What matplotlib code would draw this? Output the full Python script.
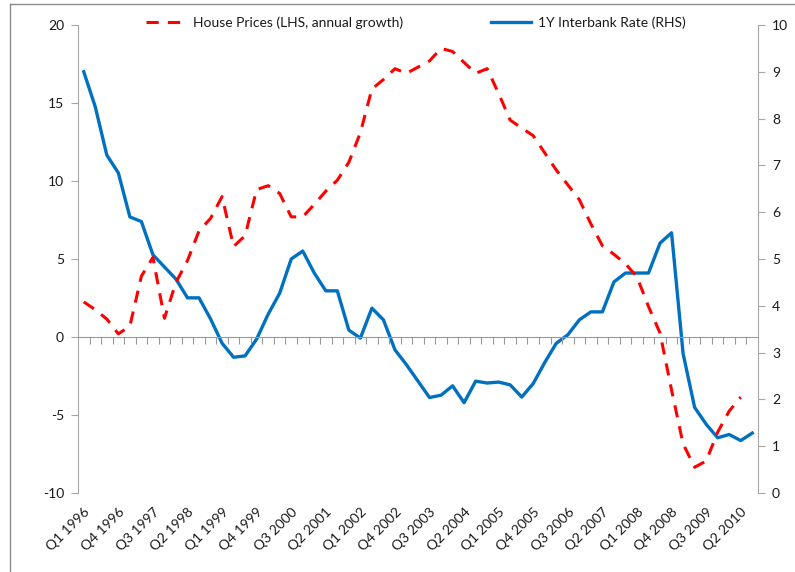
import matplotlib
matplotlib.use('Agg')
import numpy as np
import matplotlib.pyplot as plt
from matplotlib.lines import Line2D

plt.rcParams['font.family'] = ['Lato', 'DejaVu Sans']
plt.rcParams['axes.unicode_minus'] = False

# Quarterly categories, Q1 1996 .. Q3 2010
quarters = [f'Q{q} {y}' for y in range(1996, 2011) for q in range(1, 5)][:59]

# House prices, annual growth % (LHS) - ends Q2 2010
house_prices = [2.25, 1.75, 1.15, 0.2, 0.7, 3.9, 5.1, 1.2, 3.5, 4.9,
                6.8, 7.6, 9.0, 5.8, 6.5, 9.45, 9.7, 9.2, 7.7, 7.7,
                8.5, 9.35, 10.05, 11.2, 13.1, 15.9, 16.5, 17.2, 16.9, 17.3,
                17.7, 18.5, 18.3, 17.6, 16.9, 17.2, 15.6, 13.9, 13.4, 12.9,
                11.8, 10.7, 9.75, 8.8, 7.25, 5.85, 5.3, 4.7, 3.85, 1.95,
                0.25, -3.4, -6.85, -8.35, -7.95, -6.1, -4.75, -3.85]

# 1Y interbank rate % (RHS)
interbank = [9.0, 8.25, 7.22, 6.84, 5.9, 5.8, 5.09, 4.83, 4.57, 4.17,
             4.17, 3.72, 3.2, 2.9, 2.93, 3.29, 3.82, 4.27, 5.0, 5.17,
             4.7, 4.32, 4.32, 3.48, 3.31, 3.95, 3.7, 3.06, 2.74, 2.39,
             2.04, 2.09, 2.29, 1.93, 2.39, 2.35, 2.37, 2.31, 2.05, 2.34,
             2.79, 3.2, 3.38, 3.7, 3.87, 3.87, 4.51, 4.7, 4.7, 4.7,
             5.34, 5.56, 2.98, 1.83, 1.47, 1.18, 1.25, 1.12, 1.28]

grey = '#a6a6a6'
txt = '#1a1a1a'

fig = plt.figure(figsize=(7.95, 5.72), dpi=100)
ax = fig.add_axes([78 / 795, 1 - 493 / 572, 680 / 795, 468 / 572])
ax2 = ax.twinx()

l2, = ax2.plot(range(len(interbank)), interbank, color='#0070C0', lw=2.4,
               solid_joinstyle='round')
l1, = ax.plot(range(len(house_prices)), house_prices, color='#ff0000', lw=2.2,
              dashes=(4, 3))
ax.set_zorder(ax2.get_zorder() + 1)
ax.patch.set_visible(False)

ax.set_xlim(-0.5, len(quarters) - 0.5)
ax.set_ylim(-10, 20)
ax.set_yticks(range(-10, 21, 5))
ax2.set_ylim(0, 10)
ax2.set_yticks(range(0, 11))

for s in ['top', 'right']:
    ax.spines[s].set_visible(False)
for s in ['top', 'left', 'bottom']:
    ax2.spines[s].set_visible(False)
ax.spines['left'].set_color(grey)
ax.spines['bottom'].set_color('#999999')
ax.spines['bottom'].set_position(('data', 0))
ax2.spines['right'].set_color(grey)

# category boundary ticks on the zero line
ax.set_xticks(np.arange(0.5, len(quarters) - 1, 1))
ax.tick_params(axis='x', direction='out', length=5, color='#999999',
               labelbottom=False)
ax.tick_params(axis='y', direction='out', length=5, color=grey,
               labelsize=10, labelcolor=txt, pad=5)
ax2.tick_params(axis='y', direction='out', length=5, color=grey,
                labelsize=10, labelcolor=txt, pad=5)

# labels at the bottom of the plot area
sec = ax.secondary_xaxis('bottom')
sec.spines['bottom'].set_visible(False)
sec.set_xticks(range(0, len(quarters), 3))
sec.set_xticklabels(quarters[::3], rotation=45, ha='right', va='top',
                    rotation_mode='anchor', fontsize=10, color=txt)
sec.tick_params(axis='x', length=0, pad=9)

fig.legend([l1, l2], ['House Prices (LHS, annual growth)', '1Y Interbank Rate (RHS)'],
           loc='center', bbox_to_anchor=(416 / 795, 1 - 23 / 572), ncol=2,
           frameon=False, handlelength=2.9, handletextpad=0.5,
           columnspacing=6.3, fontsize=10, labelcolor=txt)

# chart area border (partly cut off)
fig.add_artist(Line2D([10 / 795, 10 / 795], [0, 1 - 4 / 572], color='#8c8c8c',
                      lw=1, transform=fig.transFigure))
fig.add_artist(Line2D([10 / 795, 1], [1 - 4 / 572, 1 - 4 / 572], color='#8c8c8c',
                      lw=1, transform=fig.transFigure))

fig.savefig('out.png', dpi=100)
